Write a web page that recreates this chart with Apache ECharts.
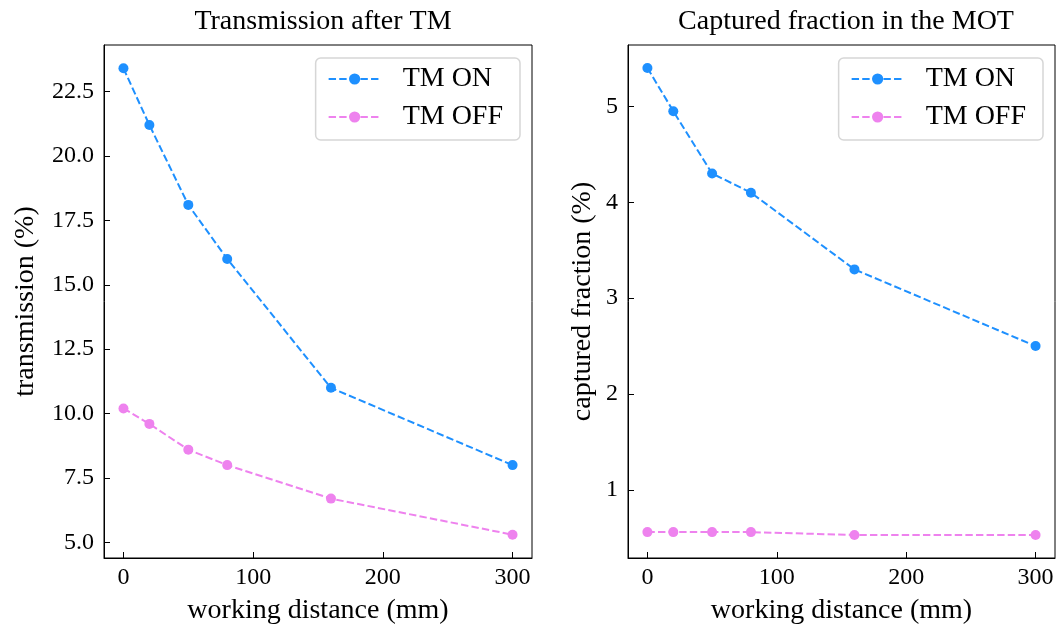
<!DOCTYPE html>
<html><head><meta charset="utf-8">
<script src="https://cdn.jsdelivr.net/npm/echarts@6/dist/echarts.min.js"></script>
<style>html,body{margin:0;padding:0;background:#fff}#c{width:1062px;height:630px}</style>
</head><body><div id="c"></div>
<script>
const distance = [0, 20, 50, 80, 160, 300];
const transOn = [23.4, 21.2, 18.1, 16.0, 11.0, 8.0];
const transOff = [10.2, 9.6, 8.6, 8.0, 6.7, 5.3];
const capOn = [5.4, 4.95, 4.3, 4.1, 3.3, 2.5];
const capOff = [0.56, 0.56, 0.56, 0.56, 0.53, 0.53];
const titles = ['Transmission after TM', 'Captured fraction in the MOT'];
const yNames = ['transmission (%)', 'captured fraction (%)'];
const xName = 'working distance (mm)';
const seriesNames = ['TM ON', 'TM OFF'];
const colors = ['#1E90FF', '#EE82EE'];

const FONT = 'Liberation Serif';
const FS_TICK = 24;
const FS_TXT = 28;
const pair = (xs, ys) => xs.map((x, i) => [x, ys[i]]);

function xAx(gi) {
  return {
    type: 'value', gridIndex: gi, min: -15, max: 315, splitNumber: 3,
    minInterval: 100, maxInterval: 100,
    name: xName, nameLocation: 'middle', nameGap: 39,
    nameTextStyle: {fontFamily: FONT, fontSize: FS_TXT, color: '#000'},
    axisLine: {show: true, onZero: false, lineStyle: {color: '#000', width: 1}},
    axisTick: {show: true, inside: true, length: 6, lineStyle: {color: '#000'}},
    axisLabel: {fontFamily: FONT, fontSize: FS_TICK, color: '#000', margin: 8, showMinLabel: false, showMaxLabel: false},
    splitLine: {show: false}
  };
}
function yAx(gi, min, max, iv, dec, gap) {
  return {
    type: 'value', gridIndex: gi, min: min, max: max,
    minInterval: iv, maxInterval: iv,
    name: yNames[gi], nameLocation: 'middle', nameGap: gap,
    nameTextStyle: {fontFamily: FONT, fontSize: FS_TXT, color: '#000'},
    axisLine: {show: true, onZero: false, lineStyle: {color: '#000', width: 1}},
    axisTick: {show: true, inside: true, length: 6, lineStyle: {color: '#000'}},
    axisLabel: {fontFamily: FONT, fontSize: FS_TICK, color: '#000', margin: 10, showMinLabel: false, showMaxLabel: false,
      formatter: v => dec ? v.toFixed(1) : String(Math.round(v))},
    splitLine: {show: false}
  };
}
function ser(name, gi, data, ci) {
  return {
    type: 'line', name: name, xAxisIndex: gi, yAxisIndex: gi, data: data,
    symbol: 'circle', symbolSize: 10, showSymbol: true,
    lineStyle: {color: colors[ci], width: 2, type: [7.4, 3.2]},
    itemStyle: {color: colors[ci]},
    animation: false
  };
}
function legend(right) {
  return {
    data: seriesNames, orient: 'vertical', right: right, top: 58,
    itemWidth: 52, itemHeight: 14, itemGap: 10,
    padding: [7, 17, 9, 12],
    borderColor: '#d6d6d6', borderWidth: 1.5, borderRadius: 5,
    textStyle: {fontFamily: FONT, fontSize: FS_TXT, color: '#000', padding: [0, 0, 0, 17]}
  };
}

const chart = echarts.init(document.getElementById('c'));
chart.setOption({
  animation: false,
  title: [
    {text: titles[0], left: 318, top: 3, textAlign: 'center', textStyle: {fontFamily: FONT, fontSize: FS_TXT, fontWeight: 'normal', color: '#000'}},
    {text: titles[1], left: 841, top: 3, textAlign: 'center', textStyle: {fontFamily: FONT, fontSize: FS_TXT, fontWeight: 'normal', color: '#000'}}
  ],
  grid: [
    {left: 104, top: 45, width: 428, height: 517, show: true, borderColor: '#000', borderWidth: 1},
    {left: 628, top: 45, width: 427, height: 517, show: true, borderColor: '#000', borderWidth: 1}
  ],
  xAxis: [xAx(0), xAx(1)],
  yAxis: [yAx(0, 4.395, 24.305, 2.5, true, 64), yAx(1, 0.29, 5.64, 1, false, 31)],
  legend: [legend(542), legend(19)],
  series: [
    ser(seriesNames[0], 0, pair(distance, transOn), 0),
    ser(seriesNames[1], 0, pair(distance, transOff), 1),
    ser(seriesNames[0], 1, pair(distance, capOn), 0),
    ser(seriesNames[1], 1, pair(distance, capOff), 1)
  ]
});
</script></body></html>
